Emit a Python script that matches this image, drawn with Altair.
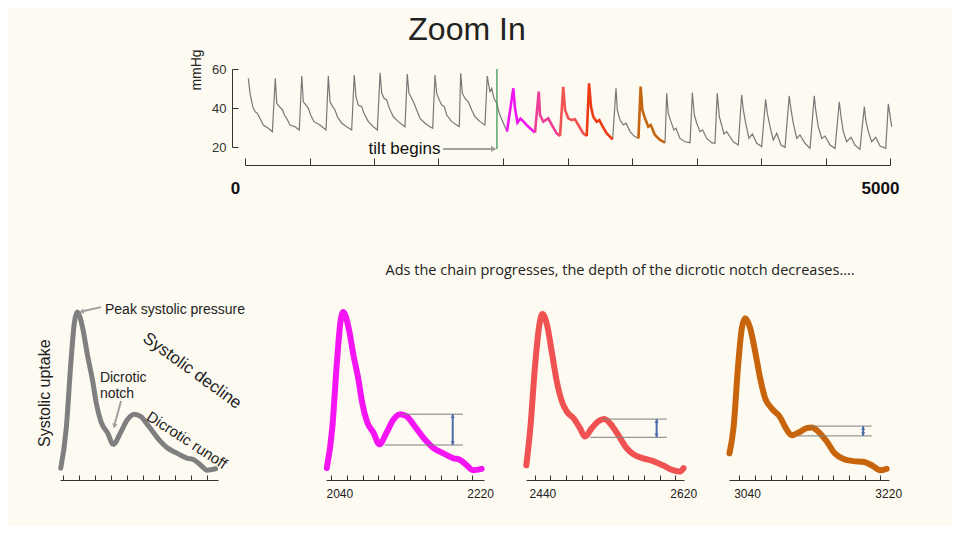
import altair as alt
import pandas as pd

FONT = "Liberation Sans"
BG = "#FDFAF1"
INK = "#222222"
AXIS = "#333333"
BLUE = "#4A6CA8"

# ---------------- overview trace (time in ms, pressure in mmHg) ----------------
SEG_IDS = ["g1", "m", "p", "s", "r", "g2", "b", "g3"]
SEG_COLORS = {"m": "#F014F0", "p": "#EE3D96", "s": "#F05352", "r": "#EE3B14", "b": "#C4650F"}

T_G1 = [26, 39, 60, 78, 95, 116, 142, 181, 212,
        235, 246, 266, 292, 305, 323, 349, 388, 421,
        440, 452, 473, 491, 509, 535, 581, 628,
        646, 659, 680, 698, 716, 750, 788, 827,
        847, 860, 878, 905, 922, 956, 995, 1026,
        1047, 1060, 1078, 1098, 1119, 1150, 1188, 1240,
        1258, 1271, 1292, 1310, 1331, 1357, 1395, 1434, 1455,
        1473, 1486, 1506, 1525, 1545, 1564, 1602, 1641, 1661,
        1672, 1685, 1705, 1731, 1757, 1783, 1822, 1860,
        1878, 1889, 1899, 1912, 1930, 1951, 1971, 1998, 2031]
V_G1 = [55.2, 47.5, 40.7, 38.1, 37.3, 34.7, 31.3, 29.6, 27.8,
        55.2, 42.4, 40.7, 39.0, 36.4, 34.7, 31.3, 30.4, 28.7,
        56.4, 43.2, 41.5, 39.8, 36.4, 33.0, 31.3, 28.7,
        56.4, 43.2, 40.7, 39.0, 35.5, 32.2, 30.4, 28.7,
        56.9, 45.8, 41.5, 40.7, 37.3, 33.0, 30.4, 28.7,
        58.1, 47.5, 45.0, 44.1, 39.8, 35.5, 33.0, 30.4,
        57.4, 47.5, 45.0, 42.4, 39.0, 34.7, 32.2, 30.4, 29.6,
        56.9, 47.5, 44.1, 41.5, 40.7, 36.4, 33.0, 31.3, 30.4,
        57.8, 47.5, 45.0, 43.2, 39.0, 35.5, 33.0, 31.3,
        56.4, 51.8, 48.4, 50.1, 45.0, 42.4, 37.3, 33.0, 27.9]
T_M = [2031, 2080, 2093, 2112, 2135, 2153, 2180, 2212, 2248]
V_M = [27.9, 50.1, 40.0, 32.5, 34.5, 33.5, 31.5, 29.5, 27.4]
T_P = [2248, 2277, 2287, 2312, 2351, 2378, 2416, 2442]
V_P = [27.4, 48.4, 36.4, 33.0, 34.7, 31.3, 27.0, 25.6]
T_S = [2442, 2467, 2481, 2506, 2533, 2558, 2584, 2622, 2649]
V_S = [25.6, 50.9, 39.0, 34.7, 33.8, 34.2, 31.3, 27.0, 25.6]
T_R = [2649, 2667, 2682, 2700, 2726, 2747, 2773, 2804, 2850]
V_R = [25.6, 52.7, 40.7, 35.5, 33.0, 33.8, 30.4, 27.0, 23.9]
T_G2 = [2850, 2876, 2886, 2907, 2933, 2954, 2985, 3016, 3050]
V_G2 = [23.9, 50.1, 39.0, 33.8, 31.3, 32.2, 27.9, 25.6, 24.4]
T_B = [3050, 3067, 3080, 3101, 3126, 3145, 3178, 3217, 3256]
V_B = [24.4, 51.0, 39.0, 34.7, 30.4, 31.3, 26.2, 23.6, 22.2]
T_G3 = [3256,
        3269, 3281, 3302, 3325, 3341, 3372, 3411, 3450,
        3468, 3483, 3502, 3527, 3548, 3579, 3617, 3643,
        3661, 3677, 3695, 3713, 3734, 3785, 3824,
        3850, 3863, 3881, 3907, 3933, 3967, 4005,
        4036, 4049, 4070, 4095, 4122, 4155, 4186,
        4219, 4233, 4250, 4277, 4302, 4341, 4380,
        4413, 4424, 4444, 4471, 4496, 4535, 4574,
        4607, 4620, 4638, 4664, 4698, 4728, 4767,
        4801, 4812, 4832, 4858, 4889, 4923, 4967,
        4987, 5013]
V_G3 = [22.2,
        47.5, 37.3, 33.0, 28.7, 29.6, 24.4, 22.7, 22.2,
        47.9, 36.4, 32.2, 27.9, 28.7, 24.4, 22.2, 21.9,
        47.5, 35.5, 31.3, 26.7, 27.9, 22.7, 21.0,
        46.7, 39.0, 32.2, 24.4, 26.7, 21.9, 20.2,
        44.4, 37.3, 30.4, 23.6, 27.0, 21.0, 19.8,
        46.2, 39.0, 32.2, 24.4, 26.2, 21.9, 19.3,
        46.2, 39.0, 30.4, 24.4, 25.6, 21.0, 19.3,
        43.2, 35.5, 27.9, 22.7, 25.0, 21.0, 18.8,
        40.7, 33.8, 27.9, 22.7, 25.0, 20.5, 19.3,
        42.1, 30.4]

TOP_TICKS = [0, 500, 1000, 1500, 2000, 2500, 3000, 3500, 4000, 4500, 5000]
TOP_LABELS = [0, 5000]
Y_TICKS = [20, 40, 60]
TILT_T = 1953

# ---------------- zoomed beats ----------------
MAG_T = [2024, 2031, 2037, 2041.5, 2045, 2052, 2058, 2065, 2069, 2075.5, 2084, 2091, 2101,
         2109, 2118, 2126, 2137, 2150, 2160, 2173, 2186, 2194, 2203, 2211, 2222]
MAG_V = [27.7, 33.4, 42.9, 48.6, 50.0, 47.7, 43.9, 40.0, 37.2, 34.3, 32.7, 31.1, 32.9,
         34.6, 35.4, 35.1, 33.6, 31.7, 30.6, 29.8, 29.1, 28.9, 28.1, 27.4, 27.6]
SAL_T = [2419.4, 2424.5, 2431, 2436, 2440, 2446, 2452, 2458.5, 2465, 2471, 2480, 2488, 2494.5,
         2503, 2511.5, 2519, 2526.5, 2537, 2548, 2556, 2569, 2581.5, 2594, 2607, 2615.5, 2620.5]
SAL_V = [28.1, 33.4, 42.9, 48.1, 49.7, 48.1, 44.3, 40.0, 37.2, 35.8, 34.8, 33.4, 32.2,
         33.4, 34.4, 34.7, 34.1, 32.4, 30.5, 29.7, 29.1, 28.7, 28.1, 27.4, 27.2, 27.7]
BRN_T = [3017.6, 3022.7, 3029, 3033.4, 3037.6, 3044, 3050.4, 3056.8, 3063, 3071.7, 3082, 3088.6,
         3097, 3107.7, 3116, 3122.6, 3131, 3141.7, 3152, 3163, 3175.6, 3188.3, 3199, 3209.6, 3218]
BRN_V = [29.8, 33.4, 42.9, 47.7, 49.1, 47.7, 44.3, 40.5, 37.7, 36.2, 35.0, 33.6,
         32.4, 32.9, 33.4, 33.5, 32.9, 31.5, 29.8, 29.0, 28.7, 28.6, 28.1, 27.4, 27.6]

# dicrotic notch depth markers: (bump level, notch level, line starts, line end, arrow time)
BUMP_V = [35.4, 34.7, 33.7]
NOTCH_V = [31.0, 32.1, 32.3]
BUMP_LINE_START = [2120, 2517, 3120]
NOTCH_LINE_START = [2098, 2501, 3105]
LINE_END = [2198, 2599, 3199]
ARROW_T = [2185, 2586, 3188]

# ---------------- scales (panel placement) ----------------
X_TOP = alt.Scale(domain=[0, 5000], range=[237, 882], nice=False, zero=False)
Y_TOP = alt.Scale(domain=[20, 60], range=[139, 61], nice=False, zero=False)
Y_PANEL = alt.Scale(domain=[26, 51], range=[472, 297], nice=False, zero=False)
X_TEMPLATE = alt.Scale(domain=[2023, 2225], range=[52, 210], nice=False, zero=False)
X_MAG = alt.Scale(domain=[2023, 2225], range=[318, 476], nice=False, zero=False)
X_SAL = alt.Scale(domain=[2419, 2621], range=[518, 676], nice=False, zero=False)
X_BRN = alt.Scale(domain=[3017, 3221], range=[721, 881], nice=False, zero=False)

H = 518
W = 944

segs = {"g1": (T_G1, V_G1), "m": (T_M, V_M), "p": (T_P, V_P), "s": (T_S, V_S),
        "r": (T_R, V_R), "g2": (T_G2, V_G2), "b": (T_B, V_B), "g3": (T_G3, V_G3)}
rows = [{"seg": k, "t": t, "v": v, "grey": k.startswith("g")}
        for k in SEG_IDS for t, v in zip(*segs[k])]
trace = pd.DataFrame(rows)

layers = []

gray = alt.Chart(trace).transform_filter("datum.grey").mark_line(
    color="#787878", strokeWidth=1.2).encode(
    x=alt.X("t:Q", scale=X_TOP, axis=alt.Axis(
        orient="top", offset=-157, values=TOP_TICKS, labels=False, tickSize=7,
        title=None, grid=False)),
    y=alt.Y("v:Q", scale=Y_TOP, axis=alt.Axis(
        orient="left", offset=-224, values=Y_TICKS, ticks=False, domain=False,
        labelPadding=6, labelFontSize=13, labelColor=AXIS, title=None, grid=False)),
    detail="seg:N")
layers.append(gray)

colored = alt.Chart(trace).transform_filter("!datum.grey").mark_line(
    strokeWidth=2.6).encode(
    x=alt.X("t:Q", scale=X_TOP, axis=alt.Axis(
        orient="bottom", offset=157 - H, values=TOP_LABELS, ticks=False, domain=False,
        labelFontSize=17, labelFontWeight="bold", labelColor="#111111", labelPadding=15,
        labelOffset=-10, labelFlush=False, format="d", title=None, grid=False)),
    y=alt.Y("v:Q", scale=Y_TOP, axis=alt.Axis(
        orient="right", offset=224 - W, values=Y_TICKS, labels=False, tickSize=6,
        title=None, grid=False)),
    color=alt.Color("seg:N", scale=alt.Scale(domain=list(SEG_COLORS.keys()),
                                             range=list(SEG_COLORS.values())), legend=None))
layers.append(colored)

tilt = alt.Chart(pd.DataFrame({"t": [TILT_T], "v0": [60], "v1": [19]})).mark_rule(
    color="#3C9A55", strokeWidth=1.3).encode(
    x=alt.X("t:Q", scale=X_TOP, axis=None),
    y=alt.Y("v0:Q", scale=Y_TOP, axis=None), y2="v1:Q")
layers.append(tilt)

tilt_text = alt.Chart(pd.DataFrame({"t": [1515], "v": [19.0], "label": ["tilt begins"]})).mark_text(
    align="right", baseline="middle", fontSize=17, color="#111111").encode(
    x=alt.X("t:Q", scale=X_TOP, axis=None), y=alt.Y("v:Q", scale=Y_TOP, axis=None), text="label:N")
layers.append(tilt_text)

tilt_arrow = alt.Chart(pd.DataFrame({"t0": [1535], "t1": [1922], "v": [19.0]})).mark_rule(
    color="#A0A0A0", strokeWidth=2).encode(
    x=alt.X("t0:Q", scale=X_TOP, axis=None), x2="t1:Q", y=alt.Y("v:Q", scale=Y_TOP, axis=None))
layers.append(tilt_arrow)

tilt_head = alt.Chart(pd.DataFrame({"t": [1928], "v": [19.0]})).mark_point(
    shape="triangle-right", filled=True, size=40, color="#A0A0A0", opacity=1).encode(
    x=alt.X("t:Q", scale=X_TOP, axis=None), y=alt.Y("v:Q", scale=Y_TOP, axis=None))
layers.append(tilt_head)

# slide texts
def slide_text(label, x, y, size, **kw):
    return alt.Chart(pd.DataFrame({"label": [label]})).mark_text(
        fontSize=size, color=INK, **kw).encode(
        text="label:N", x=alt.value(x), y=alt.value(y))

layers.append(slide_text("Zoom In", 459, 22, 32))
layers.append(slide_text("mmHg", 189, 62, 14, angle=270, baseline="middle"))
layers.append(slide_text("Ads the chain progresses, the depth of the dicrotic notch decreases\u2026.",
                         612, 263, 14.5, font="Open Sans"))


# ---------------- bottom panels ----------------
def beat_line(t, v, color, width, xs, ticks):
    return alt.Chart(pd.DataFrame({"t": t, "v": v})).mark_line(
        color=color, strokeWidth=width, interpolate="monotone",
        strokeCap="round", strokeJoin="round").encode(
        x=alt.X("t:Q", scale=xs, axis=alt.Axis(
            orient="top", offset=-472, values=ticks, labels=False, tickSize=5,
            title=None, grid=False)),
        y=alt.Y("v:Q", scale=Y_PANEL, axis=None))


def notch_marks(i, xs, labels):
    df = pd.DataFrame({"x0": [BUMP_LINE_START[i], NOTCH_LINE_START[i]],
                       "x1": [LINE_END[i], LINE_END[i]],
                       "y": [BUMP_V[i], NOTCH_V[i]]})
    rules = alt.Chart(df).mark_rule(color="#7F7F7F", strokeWidth=1).encode(
        x=alt.X("x0:Q", scale=xs, axis=alt.Axis(
            orient="bottom", offset=472 - H, values=labels, ticks=False, domain=False,
            labelFontSize=12, labelPadding=8, labelFlush=False, labelColor=INK,
            format="d", title=None, grid=False)),
        x2="x1:Q", y=alt.Y("y:Q", scale=Y_PANEL, axis=None))
    shaft = alt.Chart(pd.DataFrame({"t": [ARROW_T[i]], "v0": [BUMP_V[i]], "v1": [NOTCH_V[i]]})).mark_rule(
        color=BLUE, strokeWidth=2).encode(
        x=alt.X("t:Q", scale=xs, axis=None), y=alt.Y("v0:Q", scale=Y_PANEL, axis=None), y2="v1:Q")
    up = alt.Chart(pd.DataFrame({"t": [ARROW_T[i]], "v": [BUMP_V[i] - 0.3]})).mark_point(
        shape="triangle-up", filled=True, size=16, color=BLUE, opacity=1).encode(
        x=alt.X("t:Q", scale=xs, axis=None), y=alt.Y("v:Q", scale=Y_PANEL, axis=None))
    down = alt.Chart(pd.DataFrame({"t": [ARROW_T[i]], "v": [NOTCH_V[i] + 0.3]})).mark_point(
        shape="triangle-down", filled=True, size=16, color=BLUE, opacity=1).encode(
        x=alt.X("t:Q", scale=xs, axis=None), y=alt.Y("v:Q", scale=Y_PANEL, axis=None))
    return [rules, shaft, up, down]


TEMPLATE_TICKS = [2027, 2047, 2068, 2088, 2109, 2129, 2150, 2170, 2190, 2211]
MAG_TICKS = list(range(2030, 2211, 20))
SAL_TICKS = list(range(2430, 2611, 20))
BRN_TICKS = list(range(3030, 3211, 20))

layers.append(beat_line(MAG_T, MAG_V, "#7F7F7F", 5, X_TEMPLATE, TEMPLATE_TICKS))
layers.append(beat_line(MAG_T, MAG_V, "#F414F4", 6, X_MAG, MAG_TICKS))
layers.append(beat_line(SAL_T, SAL_V, "#F05252", 6, X_SAL, SAL_TICKS))
layers.append(beat_line(BRN_T, BRN_V, "#C8650C", 6, X_BRN, BRN_TICKS))
layers += notch_marks(0, X_MAG, [2040, 2220])
layers += notch_marks(1, X_SAL, [2440, 2620])
layers += notch_marks(2, X_BRN, [3040, 3220])


# template annotations (in the template panel's own time / pressure units)
def tpl_text(labels, ts, vs, size, **kw):
    return alt.Chart(pd.DataFrame({"label": labels, "t": ts, "v": vs})).mark_text(
        fontSize=size, color=INK, **kw).encode(
        x=alt.X("t:Q", scale=X_TEMPLATE, axis=None),
        y=alt.Y("v:Q", scale=Y_PANEL, axis=None), text="label:N")


layers.append(tpl_text(["Peak systolic pressure"], [2080.5], [50.3], 14, align="left", baseline="middle"))
layers.append(tpl_text(["Dicrotic", "notch"], [2074, 2074], [40.6, 38.3], 14, align="left", baseline="middle"))
layers.append(tpl_text(["Systolic uptake"], [2003.8], [38.4], 16, angle=270, baseline="middle"))
layers.append(tpl_text(["Systolic decline"], [2191.8], [41.6], 17, angle=36, baseline="middle"))
layers.append(tpl_text(["Dicrotic runoff"], [2185.4], [31.7], 15, angle=33, baseline="middle"))

arrow_df = pd.DataFrame({"t0": [2075.4, 2101.0], "t1": [2052.0, 2093.0], "v0": [50.7, 37.3], "v1": [50.1, 34.0]})
layers.append(alt.Chart(arrow_df).mark_rule(color="#A0A0A0", strokeWidth=2).encode(
    x=alt.X("t0:Q", scale=X_TEMPLATE, axis=None), x2="t1:Q",
    y=alt.Y("v0:Q", scale=Y_PANEL, axis=None), y2="v1:Q"))
layers.append(alt.Chart(pd.DataFrame({"t": [2050.5], "v": [50.05]})).mark_point(
    shape="triangle-left", angle=346, filled=True, size=30, color="#A0A0A0", opacity=1).encode(
    x=alt.X("t:Q", scale=X_TEMPLATE, axis=None), y=alt.Y("v:Q", scale=Y_PANEL, axis=None)))
layers.append(alt.Chart(pd.DataFrame({"t": [2092.5], "v": [33.7]})).mark_point(
    shape="triangle-down", angle=15, filled=True, size=30, color="#A0A0A0", opacity=1).encode(
    x=alt.X("t:Q", scale=X_TEMPLATE, axis=None), y=alt.Y("v:Q", scale=Y_PANEL, axis=None)))

chart = alt.layer(*layers).resolve_scale(
    x="independent", y="independent").resolve_axis(
    x="independent", y="independent").properties(
    width=W, height=H, autosize=alt.AutoSizeParams(type="none"), padding=0,
    background=BG).configure(font=FONT).configure_view(strokeWidth=0).configure_axis(
    labelFont=FONT, domainColor=AXIS, tickColor=AXIS, domainWidth=1, tickWidth=1)

chart.save("out.html", embed_options={"renderer": "svg", "actions": False})
